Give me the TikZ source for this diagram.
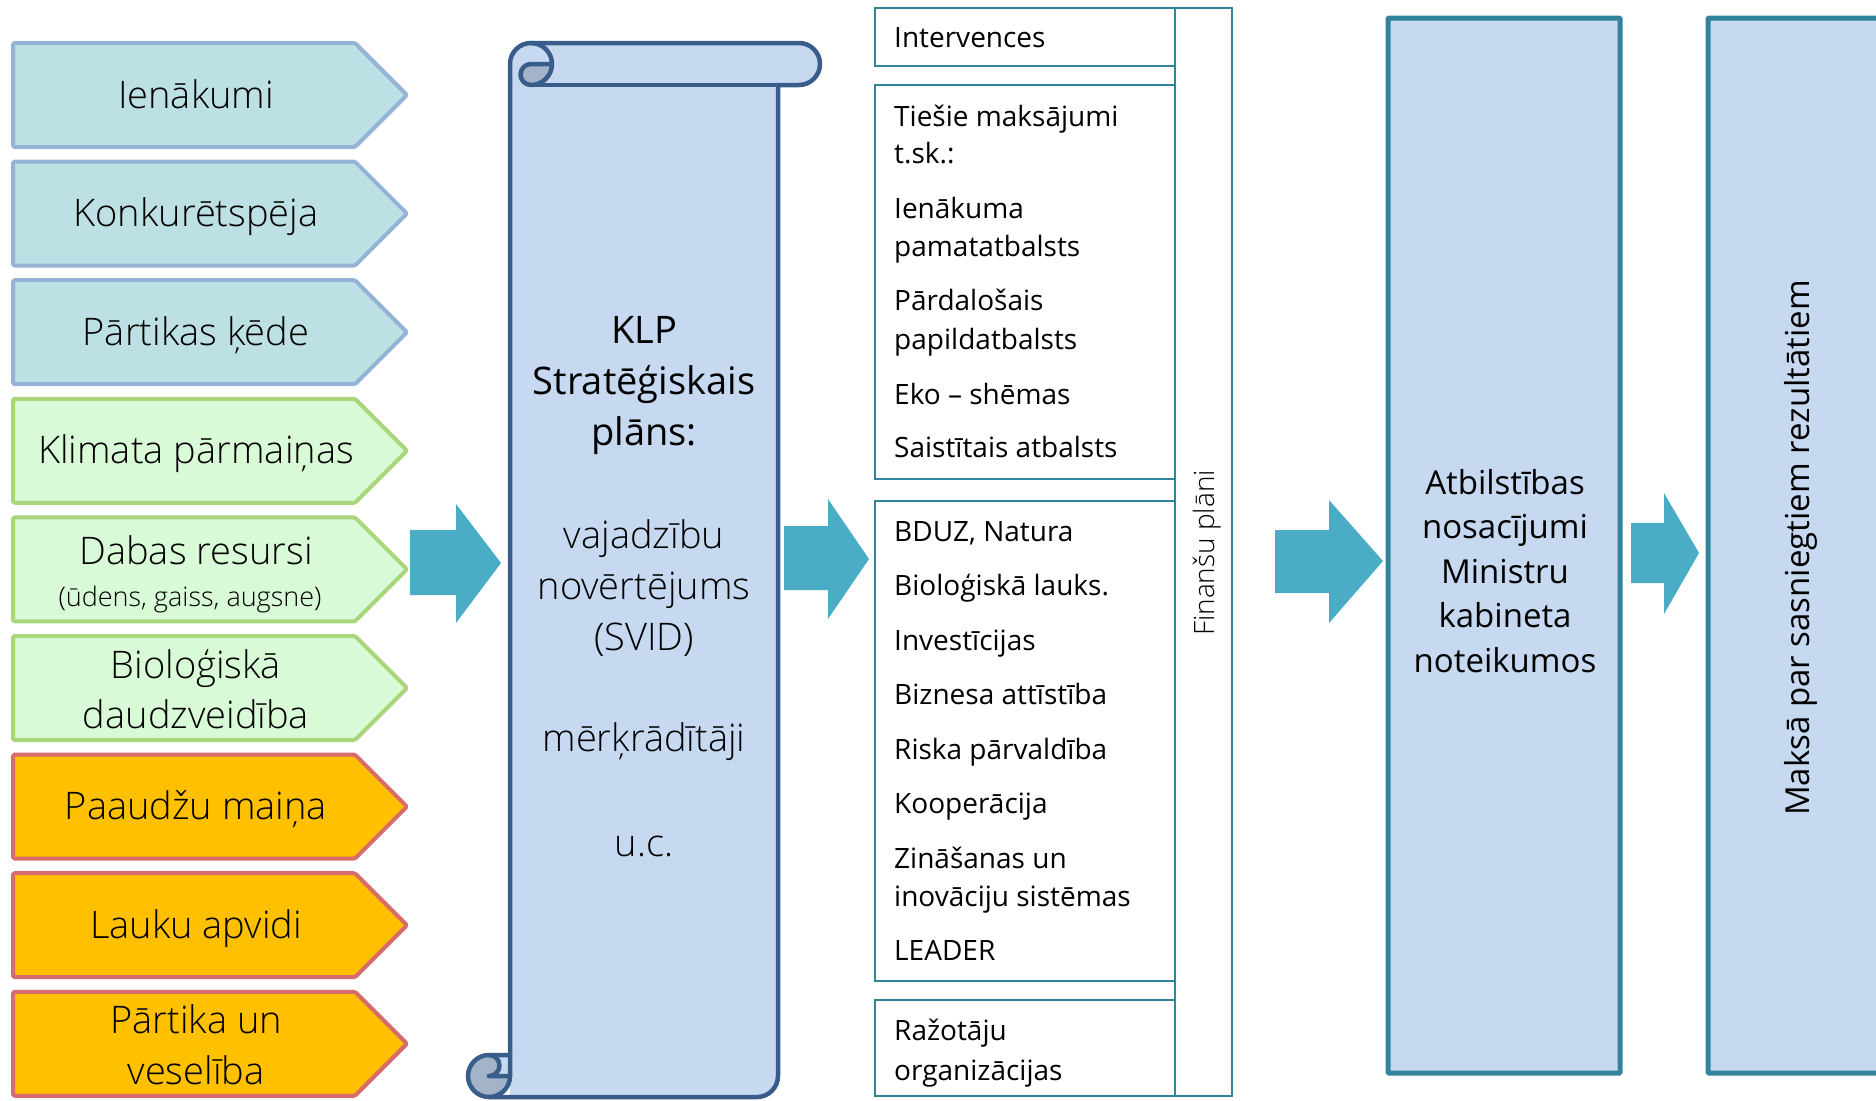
\documentclass[tikz,border=0pt]{standalone}
\usepackage{fontspec}
\setmainfont{Open Sans}
\newfontfamily\lightfont{Open Sans Light}
\definecolor{tealfill}{HTML}{BCE0E3}
\definecolor{tealline}{HTML}{95B3D7}
\definecolor{greenfill}{HTML}{D9FAD7}
\definecolor{greenline}{HTML}{A9D67A}
\definecolor{orfill}{HTML}{FFC000}
\definecolor{orline}{HTML}{D86B6B}
\definecolor{scrollfill}{HTML}{C6D9F1}
\definecolor{scrollline}{HTML}{385D8A}
\definecolor{scrolldark}{HTML}{A3B3C8}
\definecolor{boxline}{HTML}{31849B}
\definecolor{arrowblue}{HTML}{4BACC6}
\tikzset{
  sig/.style={line width=4pt, line join=round, rounded corners=1.5pt},
  lefttxt/.style={anchor=base, inner sep=0pt, font=\lightfont\fontsize{38}{44}\selectfont},
  smalltxt/.style={anchor=base, inner sep=0pt, font=\lightfont\fontsize{27}{32}\selectfont},
  scrolltxt/.style={anchor=base, inner sep=0pt, font=\fontsize{38}{46}\selectfont},
  scrolllight/.style={anchor=base, inner sep=0pt, font=\lightfont\fontsize{38}{46}\selectfont},
  listtxt/.style={anchor=base west, inner sep=0pt, font=\fontsize{28}{34}\selectfont},
  boxtxt/.style={anchor=base, inner sep=0pt, font=\fontsize{33}{40}\selectfont},
  listbox/.style={draw=boxline, line width=2pt, fill=white},
  tallbox/.style={draw=boxline, line width=5pt, fill=scrollfill, rounded corners=1pt},
  scrollstroke/.style={draw=scrollline, line width=4.5pt, line join=round, line cap=round},
  bigarrow/.style={fill=arrowblue}
}
\begin{document}
\begin{tikzpicture}[x=1pt,y=-1pt]
\useasboundingbox (0,0) rectangle (1876,1100);

% ---------- left signal shapes ----------
\foreach \i/\f/\d in {0/tealfill/tealline,1/tealfill/tealline,2/tealfill/tealline,
                      3/greenfill/greenline,4/greenfill/greenline,5/greenfill/greenline,
                      6/orfill/orline,7/orfill/orline,8/orfill/orline}{
  \pgfmathsetmacro\t{43+\i*118.6}
  \draw[sig, fill=\f, draw=\d] (13,\t) -- (355,\t) -- (407,\t+52) -- (355,\t+104) -- (13,\t+104) -- cycle;
}
\node[lefttxt] (s1) at (196,108) {Ienākumi};
\node[lefttxt] (s2) at (196,226.6) {Konkurētspēja};
\node[lefttxt] (s3) at (196,345.2) {Pārtikas ķēde};
\node[lefttxt] (s4) at (196,463.8) {Klimata pārmaiņas};
\node[lefttxt] (s5a) at (196,564) {Dabas resursi};
\node[smalltxt] (s5b) at (190,606) {(ūdens, gaiss, augsne)};
\node[lefttxt] (s6a) at (196,678) {Bioloģiskā};
\node[lefttxt] (s6b) at (196,728) {daudzveidība};
\node[lefttxt] (s7) at (196,819.6) {Paaudžu maiņa};
\node[lefttxt] (s8) at (196,938.2) {Lauku apvidi};
\node[lefttxt] (s9a) at (196,1033) {Pārtika un};
\node[lefttxt] (s9b) at (196,1084) {veselība};

% ---------- blue block arrows ----------
\fill[bigarrow] (410,530) -- (456,530) -- (456,504) -- (501,563) -- (456,623) -- (456,595) -- (410,595) -- cycle;
\fill[bigarrow] (784,526) -- (828,526) -- (828,499) -- (869,559) -- (828,619) -- (828,590) -- (784,590) -- cycle;
\fill[bigarrow] (1275,530) -- (1329,530) -- (1329,500) -- (1383,561) -- (1329,623) -- (1329,593) -- (1275,593) -- cycle;
\fill[bigarrow] (1631,523) -- (1664,523) -- (1664,493) -- (1699,553) -- (1664,614) -- (1664,583) -- (1631,583) -- cycle;

% ---------- scroll ----------
\fill[scrollfill] (510,64) -- (510,1097) -- (757,1097) .. controls (768.6,1097) and (778,1087.6) .. (778,1076) -- (778,64) -- cycle;
\fill[scrollfill] (531,43) -- (799,43) .. controls (810.6,43) and (820,52.4) .. (820,64) .. controls (820,75.6) and (810.6,85) .. (799,85) -- (531,85) -- cycle;
\fill[scrollfill] (531,64) circle (21);
\fill[scrolldark] (489,1076) circle (21);
\fill[scrollfill] (510,1076) -- (489,1076) .. controls (494.8,1076) and (499.5,1071.3) .. (499.5,1065.5) .. controls (499.5,1059.7) and (494.8,1055) .. (489,1055) -- (510,1055) -- cycle;
\fill[scrolldark] (552,64) .. controls (552,75.6) and (542.6,85) .. (531,85) .. controls (525.2,85) and (520.5,80.3) .. (520.5,74.5) .. controls (520.5,68.7) and (525.2,64) .. (531,64) -- cycle;
\draw[scrollstroke] (510,1055) -- (510,64) .. controls (510,52.4) and (519.4,43) .. (531,43) -- (799,43)
   .. controls (810.6,43) and (820,52.4) .. (820,64) .. controls (820,75.6) and (810.6,85) .. (799,85) -- (778,85)
   -- (778,1076) .. controls (778,1087.6) and (768.6,1097) .. (757,1097) -- (489,1097)
   .. controls (477.4,1097) and (468,1087.6) .. (468,1076) .. controls (468,1064.4) and (477.4,1055) .. (489,1055) -- cycle;
\draw[scrollstroke] (531,43) .. controls (542.6,43) and (552,52.4) .. (552,64) .. controls (552,75.6) and (542.6,85) .. (531,85)
   .. controls (525.2,85) and (520.5,80.3) .. (520.5,74.5) .. controls (520.5,68.7) and (525.2,64) .. (531,64) -- (552,64);
\draw[scrollstroke] (778,85) -- (531,85);
\draw[scrollstroke] (489,1055) .. controls (494.8,1055) and (499.5,1059.7) .. (499.5,1065.5) .. controls (499.5,1071.3) and (494.8,1076) .. (489,1076) -- (510,1076);
\draw[scrollstroke] (489,1097) .. controls (500.6,1097) and (510,1087.6) .. (510,1076) -- (510,1055);

\node[scrolltxt] (k1) at (644,343) {KLP};
\node[scrolltxt] (k2) at (644,394) {Stratēģiskais};
\node[scrolltxt] (k3) at (644,445) {plāns:};
\node[scrolllight] (k4) at (644,548) {vajadzību};
\node[scrolllight] (k5) at (644,599) {novērtējums};
\node[scrolllight] (k6) at (644,650) {(SVID)};
\node[scrolllight] (k7) at (644,751) {mērķrādītāji};
\node[scrolllight] (k8) at (644,856) {u.c.};

% ---------- list panel ----------
\draw[listbox] (1175,8) rectangle (1232,1096);
\draw[listbox] (875,8) rectangle (1175,66);
\draw[listbox] (875,85) rectangle (1175,479);
\draw[listbox] (875,501) rectangle (1175,981);
\draw[listbox] (875,1000) rectangle (1175,1096);
\node[anchor=base, inner sep=0pt, font=\lightfont\fontsize{28}{34}\selectfont, rotate=90] (fin) at (1214,553) {Finanšu plāni};

\node[listtxt] (l1) at (894,47) {Intervences};
\node[listtxt] (l2) at (894,126) {Tiešie maksājumi};
\node[listtxt] (l3) at (894,163) {t.sk.:};
\node[listtxt] (l4) at (894,218) {Ienākuma};
\node[listtxt] (l5) at (894,256) {pamatatbalsts};
\node[listtxt] (l6) at (894,310) {Pārdalošais};
\node[listtxt] (l7) at (894,349) {papildatbalsts};
\node[listtxt] (l8) at (894,404) {Eko – shēmas};
\node[listtxt] (l9) at (894,457) {Saistītais atbalsts};
\node[listtxt] (l10) at (894,541) {BDUZ, Natura};
\node[listtxt] (l11) at (894,595) {Bioloģiskā lauks.};
\node[listtxt] (l12) at (894,650) {Investīcijas};
\node[listtxt] (l13) at (894,704) {Biznesa attīstība};
\node[listtxt] (l14) at (894,759) {Riska pārvaldība};
\node[listtxt] (l15) at (894,813) {Kooperācija};
\node[listtxt] (l16) at (894,868) {Zināšanas un};
\node[listtxt] (l17) at (894,906) {inovāciju sistēmas};
\node[listtxt] (l18) at (894,960) {LEADER};
\node[listtxt] (l19) at (894,1040) {Ražotāju};
\node[listtxt] (l20) at (894,1080) {organizācijas};

% ---------- tall boxes ----------
\draw[tallbox] (1388,18) rectangle (1620,1073);
\draw[tallbox] (1708,18) rectangle (1900,1073);
\node[boxtxt] (a1) at (1505,494) {Atbilstības};
\node[boxtxt] (a2) at (1505,538.5) {nosacījumi};
\node[boxtxt] (a3) at (1505,583) {Ministru};
\node[boxtxt] (a4) at (1505,627.5) {kabineta};
\node[boxtxt] (a5) at (1505,672) {noteikumos};
\node[boxtxt, rotate=90] (m1) at (1809,548) {Maksā par sasniegtiem rezultātiem};
\end{tikzpicture}
\end{document}
